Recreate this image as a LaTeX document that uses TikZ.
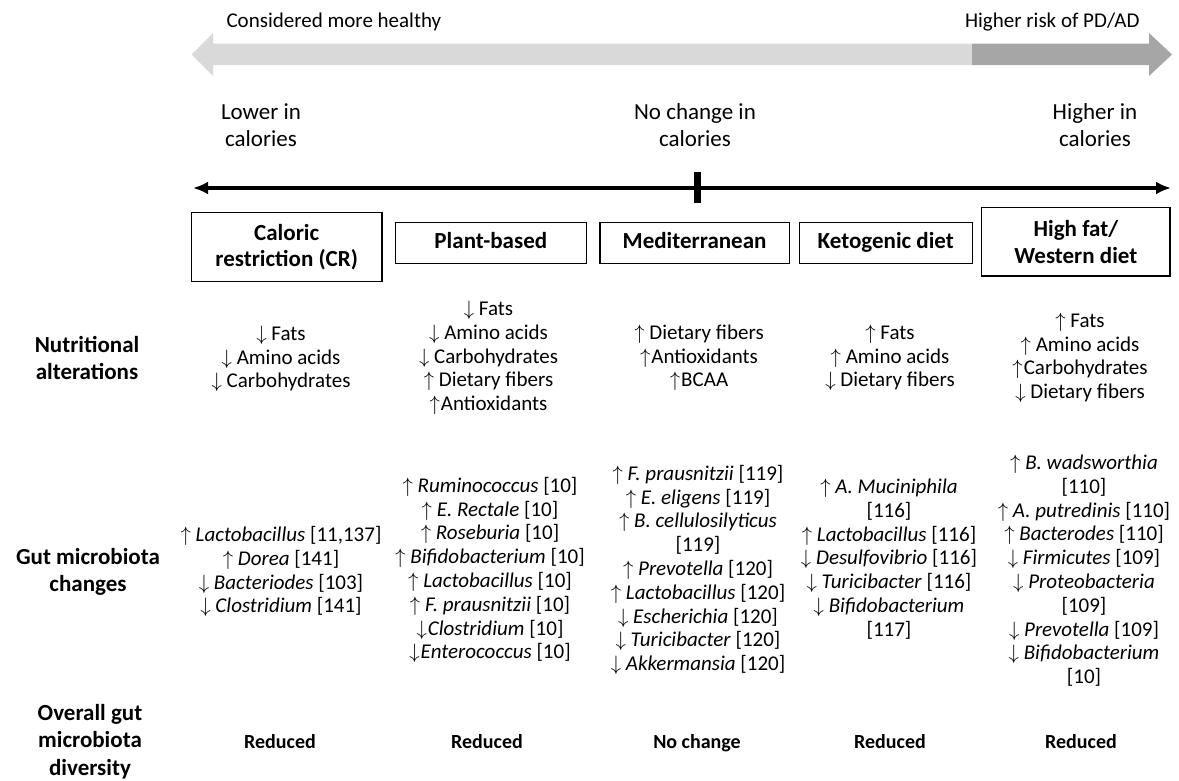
\documentclass[tikz,border=0pt]{standalone}
\usepackage{fontspec}
\setmainfont{Carlito}
\usetikzlibrary{arrows.meta}
\definecolor{lgray}{RGB}{217,217,217}
\definecolor{dgray}{RGB}{166,166,166}
\newcommand{\incr}{$\uparrow$}
\newcommand{\decr}{$\downarrow$}
\tikzset{
  dietbox/.style={draw,line width=1.3pt,align=center,inner sep=0pt,font=\fontsize{23}{26.7}\selectfont\bfseries},
  dietone/.style={dietbox,text height=16pt,text depth=5pt},
  rowlab/.style={align=center,font=\fontsize{23}{27.5}\selectfont\bfseries},
  calor/.style={align=center,font=\fontsize{23}{26.7}\selectfont},
  toptext/.style={font=\fontsize{21}{24}\selectfont},
  nutri/.style={align=center,font=\fontsize{21}{23.6}\selectfont},
  microb/.style={align=center,font=\fontsize{21}{23.8}\selectfont},
  divers/.style={anchor=base,font=\fontsize{20}{24}\selectfont\bfseries},
}

\begin{document}
\begin{tikzpicture}[x=1pt,y=-1pt]
  \useasboundingbox (0,0) rectangle (1179,780);
  % health scale
  \fill[lgray] (191.7,54.5) -- (213,33) -- (213,43.5) -- (972,43.5) -- (972,65) -- (213,65) -- (213,76) -- cycle;
  \fill[dgray] (972,43.5) -- (1149,43.5) -- (1149,33) -- (1172,54.5) -- (1149,76) -- (1149,65) -- (972,65) -- cycle;
  \node[toptext,anchor=west] (healthy) at (223,22) {Considered more healthy};
  \node[toptext,anchor=east] (risk) at (1143,22) {Higher risk of PD/AD};

  % calorie axis
  \node[calor] (lower) at (261,125) {Lower in\\calories};
  \node[calor] (nochg) at (695,125) {No change in\\calories};
  \node[calor] (higher) at (1095,125) {Higher in\\calories};
  \coordinate (axL) at (193,188);
  \coordinate (axR) at (1171,188);
  \coordinate (axM) at (697,188);
  \draw[line width=3.5pt,{Latex[length=15pt,width=13pt]}-{Latex[length=15pt,width=13pt]}] (axL) -- (axR);
  \draw[line width=7pt] ([yshift=16pt]axM) -- ([yshift=-15pt]axM);

  % diets
  \node[dietbox,minimum width=190.7pt,minimum height=69pt] (cr) at (286.7,247.2) {Caloric\\restriction (CR)};
  \node[dietone,minimum width=191pt,minimum height=41pt] (plant) at (490.8,242.8) {Plant-based};
  \node[dietone,minimum width=189.4pt,minimum height=41pt] (med) at (694.6,242.8) {Mediterranean};
  \node[dietone,minimum width=173pt,minimum height=41pt] (keto) at (885.8,242.8) {Ketogenic diet};
  \node[dietbox,minimum width=188.2pt,minimum height=68.7pt] (hfw) at (1075.9,241.7) {High fat/\\Western diet};

  % row labels
  \node[rowlab] (labNut) at (87,358) {Nutritional\\alterations};
  \node[rowlab] (labGut) at (88,572) {Gut microbiota\\changes};
  \node[rowlab] (labDiv) at (90,741.7) {Overall gut\\microbiota\\diversity};

  % nutritional alterations
  \node[nutri] (nutCR) at (281,359) {\decr{} Fats\\\decr{} Amino acids\\\decr{} Carbohydrates};
  \node[nutri] (nutPlant) at (488.5,358) {\decr{} Fats\\\decr{} Amino acids\\\decr{} Carbohydrates\\\incr{} Dietary fibers\\\incr\kern1pt Antioxidants};
  \node[nutri] (nutMed) at (699,358) {\incr{} Dietary fibers\\\incr\kern1pt Antioxidants\\\incr\kern1pt BCAA};
  \node[nutri] (nutKeto) at (890,358) {\incr{} Fats\\\incr{} Amino acids\\\decr{} Dietary fibers};
  \node[nutri] (nutHfw) at (1080,357.7) {\incr{} Fats\\\incr{} Amino acids\\\incr\kern1pt Carbohydrates\\\decr{} Dietary fibers};

  % gut microbiota
  \node[microb] (gutCR) at (281,571.7) {\incr{} \textit{Lactobacillus} [11,137]\\\incr{} \textit{Dorea} [141]\\\decr{} \textit{Bacteriodes} [103]\\\decr{} \textit{Clostridium} [141]};
  \node[microb] (gutPlant) at (490,570) {\incr{} \textit{Ruminococcus} [10]\\\incr{} \textit{E. Rectale} [10]\\\incr{} \textit{Roseburia} [10]\\\incr{} \textit{Bifidobacterium} [10]\\\incr{} \textit{Lactobacillus} [10]\\\incr{} \textit{F. prausnitzii} [10]\\\decr\kern1pt\textit{Clostridium} [10]\\\decr\kern1pt\textit{Enterococcus} [10]};
  \node[microb] (gutMed) at (698,570) {\incr{} \textit{F. prausnitzii} [119]\\\incr{} \textit{E. eligens} [119]\\\incr{} \textit{B. cellulosilyticus}\\{}[119]\\\incr{} \textit{Prevotella} [120]\\\incr{} \textit{Lactobacillus} [120]\\\decr{} \textit{Escherichia} [120]\\\decr{} \textit{Turicibacter} [120]\\\decr{} \textit{Akkermansia} [120]};
  \node[microb] (gutKeto) at (889,559) {\incr{} \textit{A. Muciniphila}\\{}[116]\\\incr{} \textit{Lactobacillus} [116]\\\decr{} \textit{Desulfovibrio} [116]\\\decr{} \textit{Turicibacter} [116]\\\decr{} \textit{Bifidobacterium}\\{}[117]};
  \node[microb] (gutHfw) at (1084,570.8) {\incr{} \textit{B. wadsworthia}\\{}[110]\\\incr{} \textit{A. putredinis} [110]\\\incr{} \textit{Bacterodes} [110]\\\decr{} \textit{Firmicutes} [109]\\\decr{} \textit{Proteobacteria}\\{}[109]\\\decr{} \textit{Prevotella} [109]\\\decr{} \textit{Bifidobacterium}\\{}[10]};

  % diversity
  \node[divers] (divCR) at (280,748.5) {Reduced};
  \node[divers] (divPlant) at (487,748.5) {Reduced};
  \node[divers] (divMed) at (697,748.5) {No change};
  \node[divers] (divKeto) at (890,748.5) {Reduced};
  \node[divers] (divHfw) at (1081,748.5) {Reduced};
\end{tikzpicture}
\end{document}
